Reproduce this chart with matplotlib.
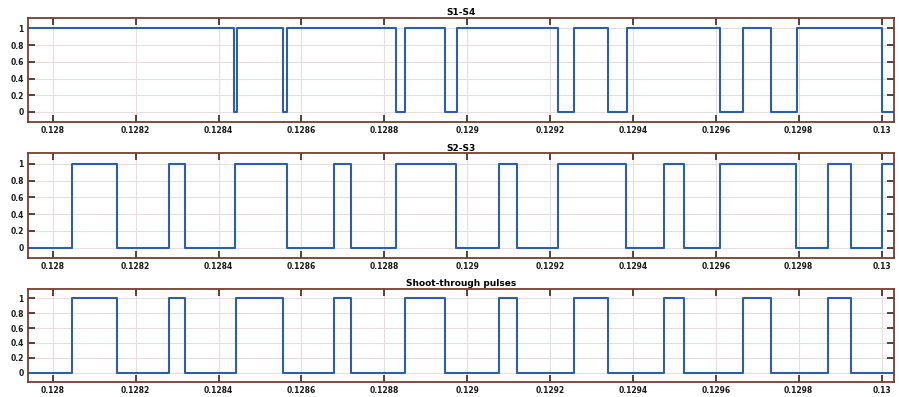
import numpy as np
import matplotlib.pyplot as plt

# instants de commutation (s)
t_start = 0.12794
t_end = 0.13003

s14_init = 1
s14_edges = [0.128437, 0.128445, 0.128556, 0.128565, 0.128828, 0.12885,
             0.128947, 0.128975, 0.129218, 0.129258, 0.12934, 0.129386,
             0.129609, 0.129666, 0.129734, 0.129795, 0.13]

s23_init = 0
s23_edges = [0.128047, 0.128155, 0.12828, 0.128319, 0.128439, 0.128565,
             0.128679, 0.128719, 0.128828, 0.128972, 0.129078, 0.129121,
             0.129218, 0.129383, 0.129474, 0.129524, 0.129609, 0.129794,
             0.129871, 0.129927, 0.13]

st_init = 0
st_edges = [0.128047, 0.128155, 0.12828, 0.128319, 0.128443, 0.128556,
            0.128679, 0.128719, 0.12885, 0.128947, 0.129078, 0.129121,
            0.129258, 0.12934, 0.129474, 0.129524, 0.129666, 0.129734,
            0.129871, 0.129927]

titles = ["S1-S4", "S2-S3", "Shoot-through pulses"]
xticks = [0.128, 0.1282, 0.1284, 0.1286, 0.1288, 0.129, 0.1292, 0.1294,
          0.1296, 0.1298, 0.13]
xtick_labels = ["0.128", "0.1282", "0.1284", "0.1286", "0.1288", "0.129",
                "0.1292", "0.1294", "0.1296", "0.1298", "0.13"]
yticks = [0, 0.2, 0.4, 0.6, 0.8, 1]
ytick_labels = ["0", "0.2", "0.4", "0.6", "0.8", "1"]


def signal(init, edges):
    # construire le signal en escalier
    t = [t_start]
    v = [init]
    etat = init
    for e in edges:
        t.append(e)
        v.append(etat)
        etat = 1 - etat
        t.append(e)
        v.append(etat)
    t.append(t_end)
    v.append(etat)
    return np.array(t), np.array(v)


frame_col = "#7a3b32"
line_col = "#2f5ea8"

fig = plt.figure(figsize=(8.99, 3.97), dpi=100)
positions = [[0.0311, 0.6927, 0.9633, 0.262],
             [0.0311, 0.3509, 0.9633, 0.263],
             [0.0311, 0.0385, 0.9633, 0.2335]]

data = [(s14_init, s14_edges), (s23_init, s23_edges), (st_init, st_edges)]

for pos, (init, edges), title in zip(positions, data, titles):
    ax = fig.add_axes(pos)
    t, v = signal(init, edges)
    ax.plot(t, v, color=line_col, lw=1.5)
    ax.set_xlim(t_start, t_end)
    ax.set_ylim(-0.12, 1.125)
    ax.set_xticks(xticks)
    ax.set_xticklabels(xtick_labels)
    ax.set_yticks(yticks)
    ax.set_yticklabels(ytick_labels)
    ax.grid(True, color="#e6dede", lw=0.8)
    for sp in ax.spines.values():
        sp.set_color(frame_col)
        sp.set_linewidth(1.3)
    ax.tick_params(direction="in", top=True, right=True, length=5,
                   width=1.2, color="#3a2420", labelsize=5.5, pad=3,
                   labelcolor="#1a1a1a")
    for lab in ax.get_xticklabels() + ax.get_yticklabels():
        lab.set_fontweight("bold")
    ax.set_title(title, fontsize=6.5, fontweight="bold", pad=2)

fig.savefig("out.png", dpi=100)
